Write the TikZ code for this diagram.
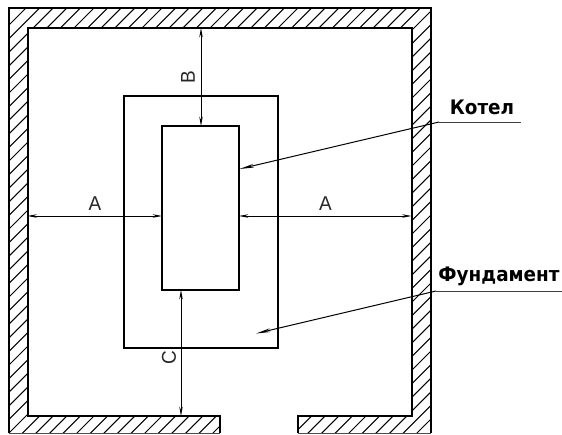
\documentclass[tikz,border=0pt]{standalone}
\usepackage{fontspec}
\setmainfont{Liberation Sans}
\newfontfamily\labfont{DejaVu Sans}
\usetikzlibrary{arrows.meta}
\tikzset{
  wall/.style={line width=1.5pt,line join=miter},
  box/.style={draw,line width=1.5pt,inner sep=0pt,outer sep=0pt,minimum width=#1},
  hatchline/.style={line width=0.75pt},
  dim/.style={line width=0.6pt,{Stealth[length=7pt,width=2.6pt]}-{Stealth[length=7pt,width=2.6pt]}},
  leader/.style={line width=0.75pt,{Stealth[length=11pt,width=2.8pt]}-},
  shelf/.style={line width=0.6pt,draw=black!75},
  dimtext/.style={font=\fontsize{15}{15}\selectfont,text=black!85,inner sep=0pt},
  title/.style={font=\labfont\bfseries\fontsize{15}{17}\selectfont,inner sep=0pt,xscale=0.92}
}
\begin{document}
\begin{tikzpicture}[x=0.75pt,y=-0.75pt]
\useasboundingbox (0,0) rectangle (562,435);
% hatching, clipped to the wall section
\begin{scope}
\clip (8.5,433) -- (8.5,8.5) -- (431,8.5) -- (431,433) -- (298,433) -- (298,416) -- (411.5,416) -- (411.5,28) -- (27.5,28) -- (27.5,416) -- (220,416) -- (220,433) -- cycle;
\foreach \c in {34,47.6,...,880}
  \draw[hatchline] (\c,0) -- (0,\c);
\end{scope}
% wall outlines
\draw[wall] (220,433) -- (220,416) -- (27.5,416) -- (27.5,28) -- (411.5,28) -- (411.5,416) -- (298,416) -- (298,433);
\draw[wall] (8.5,433) -- (8.5,8.5) -- (431,8.5) -- (431,433);
\draw[line width=0.8pt,draw=black!70] (8.5,433.5) -- (220,433.5) (298,433.5) -- (431,433.5);
% boxes
\node[box=115.5pt,minimum height=189pt,anchor=north west] (fund) at (123.5,96) {};
\node[box=57.75pt,minimum height=123pt,anchor=north west] (boiler) at (162,126) {};
% named free ends
\coordinate (wl) at (27.5,216);
\coordinate (wr) at (411.5,216);
\coordinate (wt) at (201,28);
\coordinate (wb) at (181,416);
\coordinate (bl) at (162,216);
\coordinate (br) at (239,216);
\coordinate (bt) at (201,126);
\coordinate (bb) at (181,290);
\draw[dim] (wl) -- (bl);
\draw[dim] (br) -- (wr);
\draw[dim] (wt) -- (bt);
\draw[dim] (bb) -- (wb);
\node[dimtext,xscale=0.95] (la1) at (95,204) {A};
\node[dimtext,xscale=0.95] (la2) at (325.5,204) {A};
\node[dimtext,rotate=90,xscale=0.95] (lb) at (188,77) {B};
\node[dimtext,rotate=90,xscale=0.95] (lc) at (169,358) {C};
% leaders
\coordinate (t1) at (239.5,169);
\coordinate (k1) at (439,122);
\coordinate (k2) at (521,122);
\coordinate (t2) at (256,333.5);
\coordinate (k3) at (436,291);
\coordinate (k4) at (562,291);
\draw[leader] (t1) -- (k1);
\draw[shelf] (k1) -- (k2);
\draw[leader] (t2) -- (k3);
\draw[shelf] (k3) -- (k4);
\node[title] (kotel) at (482,107) {Котел};
\node[title] (found) at (499,276) {Фундамент};
\end{tikzpicture}
\end{document}
